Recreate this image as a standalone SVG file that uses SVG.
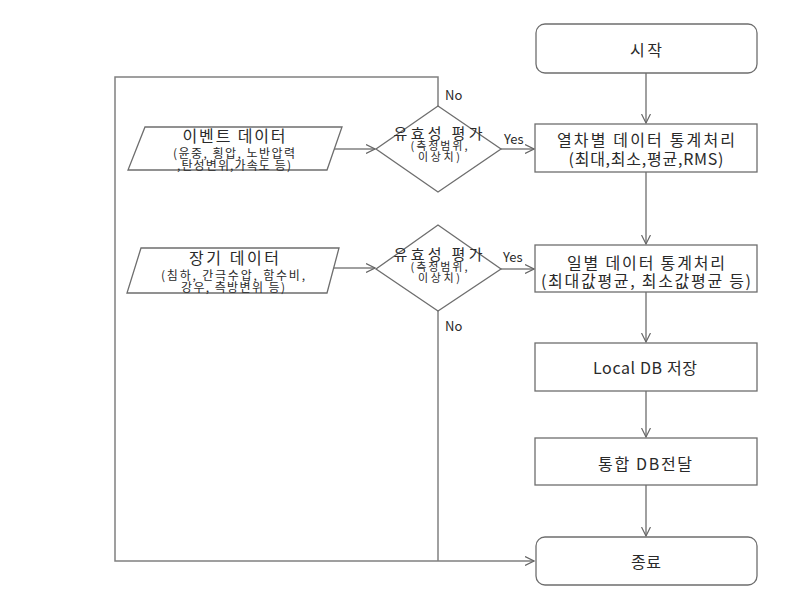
<svg xmlns="http://www.w3.org/2000/svg" width="812" height="590" viewBox="0 0 812 590">
<style>
.box{fill:#fff;stroke:#6e6e6e;stroke-width:1.3}
.ln{fill:none;stroke:#808080;stroke-width:1.5}
.t{font-family:"Noto Sans CJK KR","Noto Sans",sans-serif;fill:#2a2a2a;text-anchor:middle;dominant-baseline:central}
.m{font-size:16px}
.d{font-size:15px}
.s{font-size:12px}
.x{font-size:11px}
.l{font-size:13px;text-anchor:start}
</style>
<defs>
<marker id="ar" viewBox="0 0 10 10" refX="9" refY="5" markerWidth="10" markerHeight="10" markerUnits="userSpaceOnUse" orient="auto">
<path d="M0,0.5 L9,5 L0,9.5" fill="none" stroke="#666" stroke-width="1.2"/>
</marker>
</defs>
<g id="connectors">
<path class="ln" d="M646,73 V123" marker-end="url(#ar)"/>
<path class="ln" d="M646,172 V244" marker-end="url(#ar)"/>
<path class="ln" d="M646,292 V342" marker-end="url(#ar)"/>
<path class="ln" d="M646,391 V437" marker-end="url(#ar)"/>
<path class="ln" d="M646,485 V536" marker-end="url(#ar)"/>
<path class="ln" d="M334,149 H375" marker-end="url(#ar)"/>
<path class="ln" d="M333,268 H375" marker-end="url(#ar)"/>
<path class="ln" d="M501,149 H534" marker-end="url(#ar)"/>
<path class="ln" d="M501,269 H534" marker-end="url(#ar)"/>
<path class="ln" d="M438,106 V77 H115 V561 H534" marker-end="url(#ar)"/>
<path class="ln" d="M438,311 V561"/>
<text class="t l" x="445" y="94">No</text>
<text class="t l" x="504" y="138">Yes</text>
<text class="t l" x="503" y="256">Yes</text>
<text class="t l" x="445" y="325">No</text>
</g>
<g id="start">
<rect class="box" x="536" y="24" width="221" height="49" rx="9"/>
<text class="t m" x="646" y="49" textLength="32">시작</text>
</g>
<g id="event-data">
<polygon class="box" points="145,127 342,127 327,170 128,170"/>
<text class="t m" x="234" y="135" textLength="103">이벤트 데이터</text>
<text class="t s" x="234" y="152" textLength="122">(윤중, 횡압, 노반압력</text>
<text class="t s" x="234" y="164" textLength="114">,탄성변위,가속도 등)</text>
</g>
<g id="valid1">
<polygon class="box" points="438,106 501,149 438,192 376,149"/>
<text class="t d" x="438" y="132" textLength="89">유효성 평가</text>
<text class="t x" x="439" y="145" textLength="57">(측정범위,</text>
<text class="t x" x="439" y="156" textLength="42">이상치)</text>
</g>
<g id="train-stats">
<rect class="box" x="535" y="124" width="222" height="48"/>
<text class="t m" x="646" y="139" textLength="178">열차별 데이터 통계처리</text>
<text class="t m" x="646" y="158" textLength="155">(최대,최소,평균,RMS)</text>
</g>
<g id="long-data">
<polygon class="box" points="141,248 339,248 327,293 127,293"/>
<text class="t m" x="234" y="257" textLength="90">장기 데이터</text>
<text class="t s" x="233" y="274" textLength="144">(침하, 간극수압, 함수비,</text>
<text class="t s" x="233" y="286" textLength="104">강우, 측방변위 등)</text>
</g>
<g id="valid2">
<polygon class="box" points="438,225 501,269 438,311 376,269"/>
<text class="t d" x="438" y="253" textLength="89">유효성 평가</text>
<text class="t x" x="439" y="266" textLength="57">(측정범위,</text>
<text class="t x" x="439" y="277" textLength="42">이상치)</text>
</g>
<g id="daily-stats">
<rect class="box" x="535" y="245" width="222" height="47"/>
<text class="t m" x="646" y="262" textLength="158">일별 데이터 통계처리</text>
<text class="t m" x="646" y="280" textLength="210">(최대값평균, 최소값평균 등)</text>
</g>
<g id="local-db">
<rect class="box" x="535" y="343" width="222" height="48"/>
<text class="t m" x="645" y="367" textLength="104">Local DB 저장</text>
</g>
<g id="integrated-db">
<rect class="box" x="535" y="438" width="222" height="47"/>
<text class="t m" x="645" y="463" textLength="94">통합 DB전달</text>
</g>
<g id="end">
<rect class="box" x="536" y="537" width="221" height="48" rx="9"/>
<text class="t m" x="646" y="561" textLength="30">종료</text>
</g>
</svg>
